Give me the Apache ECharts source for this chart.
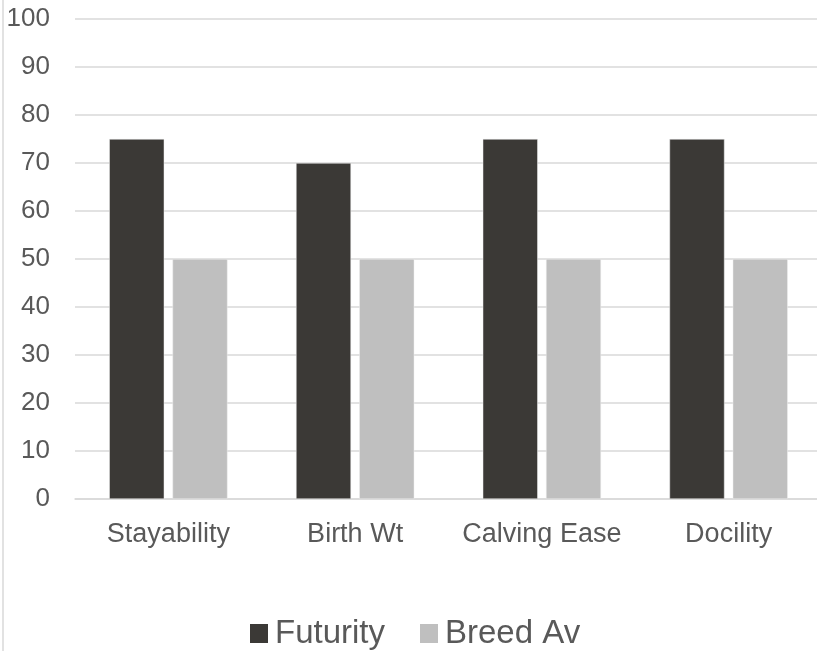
<!DOCTYPE html>
<html><head><meta charset="utf-8">
<script src="https://cdn.jsdelivr.net/npm/echarts@6/dist/echarts.min.js"></script>
<style>html,body{margin:0;padding:0;background:#fff}#c{width:817px;height:651px}</style>
</head><body><div id="c"></div>
<script>
const categories = ['Stayability', 'Birth Wt', 'Calving Ease', 'Docility'];
const futurity = [75, 70, 75, 75];
const breedAv = [50, 50, 50, 50];
const seriesNames = ['Futurity', 'Breed Av'];

const chart = echarts.init(document.getElementById('c'));
const txt = '#595959';
chart.setOption({
  animation: false,
  backgroundColor: '#fff',
  graphic: [{type: 'line', shape: {x1: 3, y1: 0, x2: 3, y2: 651}, style: {stroke: '#d9d9d9', lineWidth: 1.5}}],
  grid: {left: 75, width: 747, top: 19, bottom: 152, outerBoundsMode: 'none', containLabel: false},
  legend: {
    data: seriesNames, left: 245, top: 612, itemWidth: 18, itemHeight: 19, itemGap: 35,
    icon: 'rect', itemStyle: {borderWidth: 0},
    textStyle: {color: txt, fontSize: 33, fontFamily: 'Liberation Sans, Arial', padding: [0, 0, 0, 2]}
  },
  xAxis: {
    type: 'category', data: categories,
    axisLine: {lineStyle: {color: '#d9d9d9', width: 1.5}},
    axisTick: {show: false},
    axisLabel: {color: txt, fontSize: 27, fontFamily: 'Liberation Sans, Arial', margin: 22, interval: 0}
  },
  yAxis: {
    type: 'value', min: 0, max: 100, interval: 10,
    axisLine: {show: false}, axisTick: {show: false},
    splitLine: {lineStyle: {color: '#d9d9d9', width: 1.5}},
    axisLabel: {color: txt, fontSize: 26, fontFamily: 'Liberation Sans, Arial', margin: 25}
  },
  series: [
    {name: seriesNames[0], type: 'bar', data: futurity, barWidth: 55, barGap: '15%',
     itemStyle: {color: '#3b3936', borderColor: '#eee', borderWidth: 0.5}},
    {name: seriesNames[1], type: 'bar', data: breedAv, barWidth: 55,
     itemStyle: {color: '#bfbfbf', borderColor: '#eee', borderWidth: 0.5}}
  ]
});
</script></body></html>
